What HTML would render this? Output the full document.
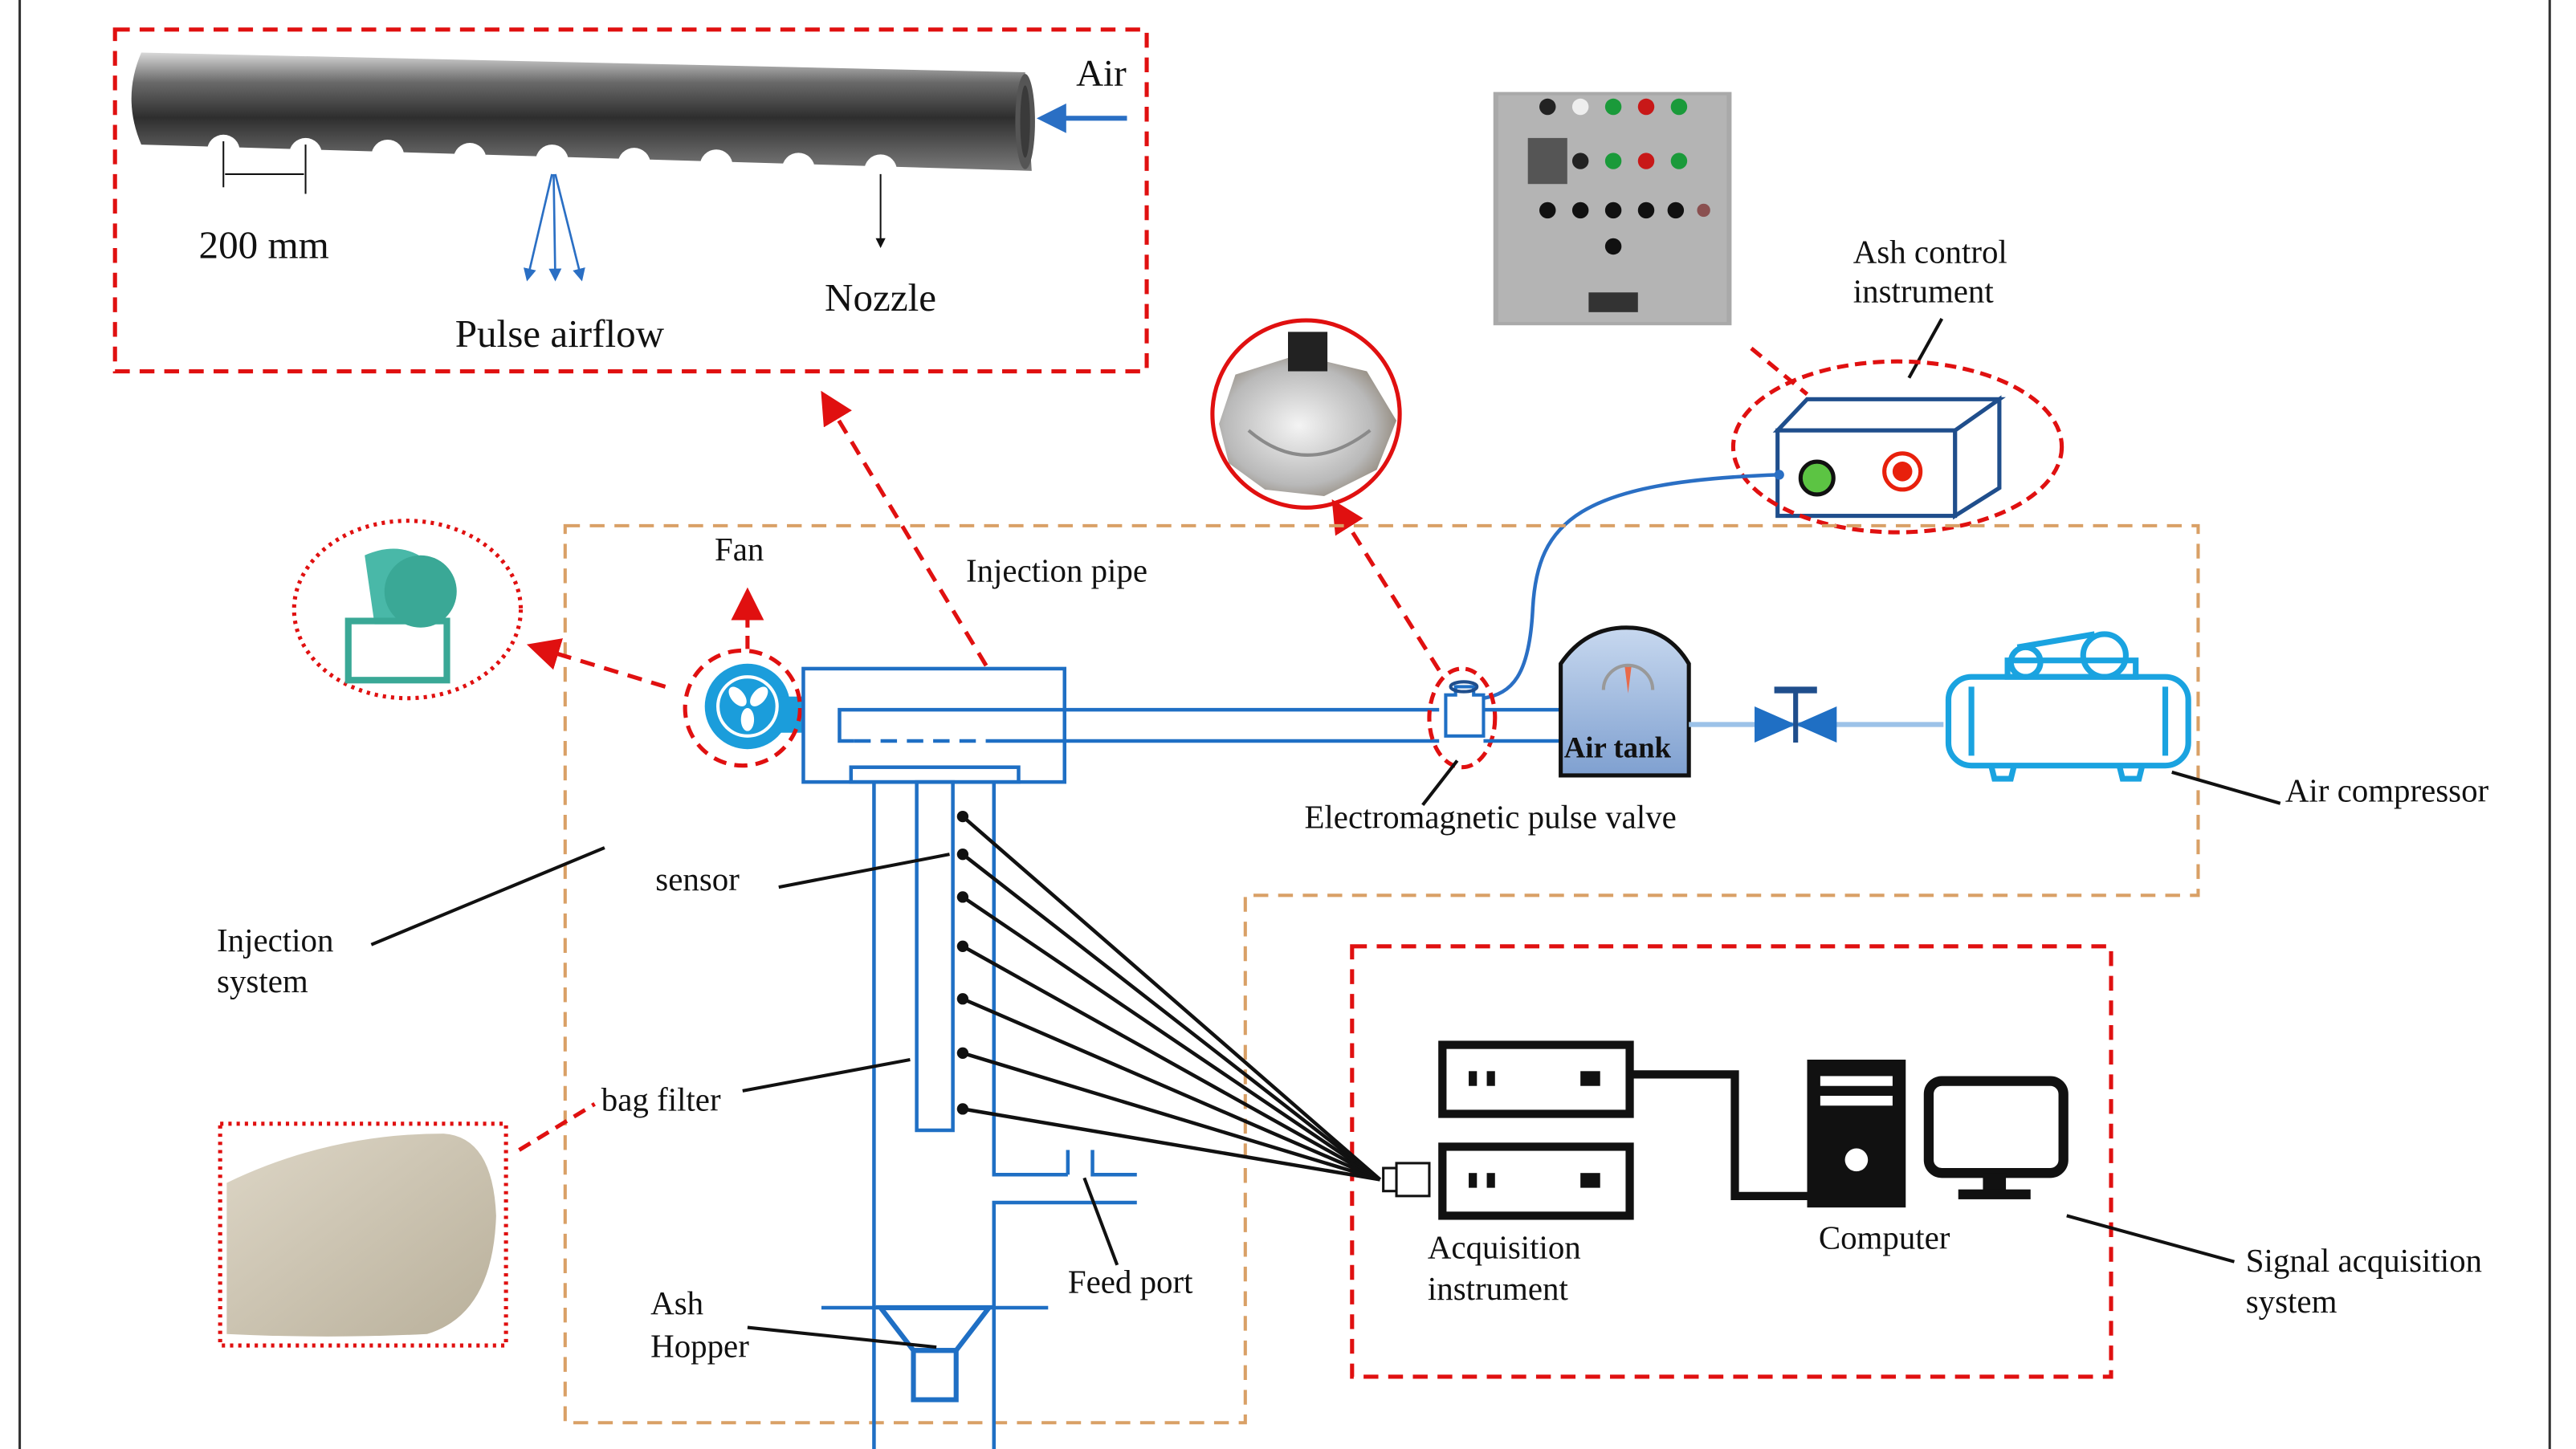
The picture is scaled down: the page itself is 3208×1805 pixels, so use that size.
<!DOCTYPE html>
<html><head><meta charset="utf-8"><style>
html,body{margin:0;padding:0;background:#fff;}
svg{display:block;}
text{font-family:"Liberation Serif",serif;fill:#111;}
</style></head><body>
<svg width="3208" height="1805" viewBox="0 0 1568 882" preserveAspectRatio="none" xmlns="http://www.w3.org/2000/svg">
<defs>
<linearGradient id="pipe" x1="0" y1="0" x2="0" y2="1">
<stop offset="0" stop-color="#d8d8d8"/><stop offset="0.25" stop-color="#6a6a6a"/><stop offset="0.55" stop-color="#2e2e2e"/><stop offset="1" stop-color="#7a7a7a"/></linearGradient>
<linearGradient id="tank" x1="0" y1="0" x2="0" y2="1"><stop offset="0" stop-color="#c7d8ef"/><stop offset="1" stop-color="#7fa0d0"/></linearGradient>
<radialGradient id="valve" cx="0.45" cy="0.5" r="0.6"><stop offset="0" stop-color="#f4f4f4"/><stop offset="0.7" stop-color="#b9b9b9"/><stop offset="1" stop-color="#8a7f70"/></radialGradient>
<linearGradient id="bag" x1="0" y1="0" x2="1" y2="1"><stop offset="0" stop-color="#ddd6c6"/><stop offset="1" stop-color="#b9b09b"/></linearGradient>
<marker id="ar" markerWidth="8" markerHeight="8" refX="7" refY="4" orient="auto"><path d="M0,0 L8,4 L0,8 z" fill="#e01010"/></marker>
<marker id="ab" markerWidth="6" markerHeight="6" refX="5" refY="3" orient="auto"><path d="M0,0 L6,3 L0,6 z" fill="#2a6fc4"/></marker>
<marker id="ak" markerWidth="6" markerHeight="6" refX="5" refY="3" orient="auto"><path d="M0,0 L6,3 L0,6 z" fill="#111"/></marker>
</defs>
<line x1="12" y1="0" x2="12" y2="882" stroke="#333" stroke-width="1.5"/>
<line x1="1552" y1="0" x2="1552" y2="882" stroke="#333" stroke-width="1.5"/>

<!-- top nozzle pipe -->
<rect x="70" y="18" width="628" height="208" fill="none" stroke="#e01010" stroke-width="2.5" stroke-dasharray="9,6"/>
<path d="M86,32 L624,44 L628,104 L86,88 Q74,60 86,32 z" fill="url(#pipe)"/>
<ellipse cx="624" cy="74" rx="6" ry="29" fill="#555"/>
<ellipse cx="624" cy="74" rx="3" ry="22" fill="#3a3a3a"/>
<g fill="#fff">
<circle cx="136" cy="92" r="10"/><circle cx="186" cy="94" r="10"/><circle cx="236" cy="95" r="10"/><circle cx="286" cy="97" r="10"/><circle cx="336" cy="98" r="10"/><circle cx="386" cy="100" r="10"/><circle cx="436" cy="101" r="10"/><circle cx="486" cy="103" r="10"/><circle cx="536" cy="104" r="10"/>
</g>
<text x="655" y="52" font-size="23">Air</text>
<line x1="686" y1="72" x2="634" y2="72" stroke="#2a6fc4" stroke-width="3" marker-end="url(#ab)"/>
<line x1="136" y1="86" x2="136" y2="114" stroke="#111" stroke-width="1"/>
<line x1="186" y1="88" x2="186" y2="118" stroke="#111" stroke-width="1"/>
<line x1="137" y1="106" x2="185" y2="106" stroke="#111" stroke-width="1"/>
<text x="121" y="157" font-size="24">200 mm</text>
<g stroke="#2a6fc4" stroke-width="1.3"><line x1="336" y1="106" x2="321" y2="170" marker-end="url(#ab)"/><line x1="337" y1="106" x2="338" y2="170" marker-end="url(#ab)"/><line x1="338" y1="106" x2="354" y2="170" marker-end="url(#ab)"/></g>
<text x="277" y="211" font-size="24">Pulse airflow</text>
<line x1="536" y1="106" x2="536" y2="150" stroke="#111" stroke-width="1" marker-end="url(#ak)"/>
<text x="502" y="189" font-size="24">Nozzle</text>

<!-- control panel photo -->
<rect x="909" y="56" width="145" height="142" fill="#a9a9a9"/>
<rect x="912" y="58" width="139" height="138" fill="#b4b4b4"/>
<g><circle cx="942" cy="65" r="5" fill="#222"/><circle cx="962" cy="65" r="5" fill="#eee"/><circle cx="982" cy="65" r="5" fill="#1a9a3a"/><circle cx="1002" cy="65" r="5" fill="#c81818"/><circle cx="1022" cy="65" r="5" fill="#1a9a3a"/>
<rect x="930" y="84" width="24" height="28" fill="#555"/><circle cx="962" cy="98" r="5" fill="#222"/><circle cx="982" cy="98" r="5" fill="#1a9a3a"/><circle cx="1002" cy="98" r="5" fill="#c81818"/><circle cx="1022" cy="98" r="5" fill="#1a9a3a"/>
<circle cx="942" cy="128" r="5" fill="#111"/><circle cx="962" cy="128" r="5" fill="#111"/><circle cx="982" cy="128" r="5" fill="#111"/><circle cx="1002" cy="128" r="5" fill="#111"/><circle cx="1020" cy="128" r="5" fill="#111"/><circle cx="1037" cy="128" r="4" fill="#8a5050"/>
<circle cx="982" cy="150" r="5" fill="#111"/><rect x="967" y="178" width="30" height="12" fill="#333"/></g>

<!-- ash control instrument -->
<text x="1128" y="160" font-size="20">Ash control</text>
<text x="1128" y="184" font-size="20">instrument</text>
<line x1="1182" y1="194" x2="1162" y2="230" stroke="#111" stroke-width="2"/>
<line x1="1066" y1="212" x2="1100" y2="240" stroke="#e01010" stroke-width="2.5" stroke-dasharray="8,5"/>
<path d="M1082,262 L1100,243 L1217,243 L1190,262 z M1190,262 L1217,243 L1217,297 L1190,314 z" fill="#fff" stroke="#1f4e8c" stroke-width="2.5"/>
<rect x="1082" y="262" width="108" height="52" fill="#fff" stroke="#1f4e8c" stroke-width="2.5"/>
<circle cx="1106" cy="291" r="10" fill="#5cc443" stroke="#111" stroke-width="2.5"/>
<circle cx="1158" cy="287" r="11" fill="#fff" stroke="#e8200c" stroke-width="2.5"/><circle cx="1158" cy="287" r="6" fill="#e8200c"/>
<ellipse cx="1155" cy="272" rx="100" ry="52" fill="none" stroke="#e01010" stroke-width="2.5" stroke-dasharray="7,4"/>
<path d="M1083,289 C960,293 936,318 933,370 C931,412 920,422 903,425" fill="none" stroke="#2a6fc4" stroke-width="2.2"/>
<circle cx="1083" cy="289" r="3" fill="#2a6fc4"/>

<!-- valve photo -->
<circle cx="795" cy="252" r="57" fill="#fff" stroke="#e01010" stroke-width="2.5"/>
<path d="M742,258 L752,228 L790,216 L832,226 L850,256 L838,286 L806,302 L770,298 L748,282 z" fill="url(#valve)"/>
<path d="M760,262 Q795,292 834,262" fill="none" stroke="#8a8a8a" stroke-width="2"/>
<rect x="784" y="202" width="24" height="24" fill="#222"/>
<line x1="876" y1="408" x2="812" y2="306" stroke="#e01010" stroke-width="2.5" stroke-dasharray="9,6" marker-end="url(#ar)"/>

<!-- orange injection system polygon -->
<path d="M344,320 L1338,320 L1338,545 L758,545 L758,866 L344,866 z" fill="none" stroke="#d9a066" stroke-width="2" stroke-dasharray="9,6"/>
<rect x="823" y="576" width="462" height="262" fill="none" stroke="#e01010" stroke-width="2.5" stroke-dasharray="9,6"/>

<!-- fan photo -->
<ellipse cx="248" cy="371" rx="69" ry="54" fill="#fff" stroke="#e01010" stroke-width="2.5" stroke-dasharray="2,3"/>
<path d="M222,338 Q250,326 268,350 L268,380 L228,380 z" fill="#49b8a8"/>
<circle cx="256" cy="360" r="22" fill="#3aa896"/>
<rect x="212" y="378" width="60" height="36" fill="none" stroke="#3aa896" stroke-width="4"/>
<line x1="405" y1="418" x2="323" y2="393" stroke="#e01010" stroke-width="2.5" stroke-dasharray="9,6" marker-end="url(#ar)"/>

<!-- fan -->
<circle cx="455" cy="430" r="26" fill="#1b9ddb"/><rect x="455" y="424" width="34" height="22" fill="#1b9ddb"/>
<circle cx="455" cy="430" r="18" fill="none" stroke="#fff" stroke-width="2"/>
<g fill="#fff"><ellipse cx="449" cy="424" rx="4" ry="7" transform="rotate(-40 449 424)"/><ellipse cx="462" cy="424" rx="4" ry="7" transform="rotate(40 462 424)"/><ellipse cx="455" cy="438" rx="4" ry="7"/></g>
<circle cx="452" cy="431" r="35" fill="none" stroke="#e01010" stroke-width="2.5" stroke-dasharray="8,5"/>
<line x1="455" y1="395" x2="455" y2="360" stroke="#e01010" stroke-width="2.5" stroke-dasharray="8,5" marker-end="url(#ar)"/>
<text x="435" y="341" font-size="20">Fan</text>
<text x="588" y="354" font-size="20">Injection pipe</text>
<line x1="608" y1="418" x2="501" y2="240" stroke="#e01010" stroke-width="2.5" stroke-dasharray="9,6" marker-end="url(#ar)"/>

<!-- box and pipes -->
<g fill="none" stroke="#1f6fc4" stroke-width="2.2">
<rect x="489" y="407" width="159" height="69" fill="#fff"/>
<path d="M876,432 L511,432 L511,451 L520,451"/>
<path d="M520,451 L600,451" stroke-dasharray="10,6"/>
<path d="M600,451 L876,451"/>
<rect x="518" y="467" width="102" height="9"/>
<line x1="532" y1="476" x2="532" y2="882"/>
<rect x="558" y="476" width="22" height="212"/>
<path d="M605,476 L605,715 L650,715 M650,700 L650,715"/>
<path d="M665,700 L665,715 L692,715"/>
<path d="M692,732 L605,732 L605,882"/>
<line x1="500" y1="796" x2="638" y2="796"/>
<path d="M536,796 L602,796 L582,822 L556,822 z" stroke-width="3"/>
<rect x="556" y="822" width="26" height="30" stroke-width="3"/>
</g>
<g stroke="#111" stroke-width="2.2">
<line x1="586" y1="497" x2="840" y2="718"/><line x1="586" y1="520" x2="840" y2="718"/><line x1="586" y1="546" x2="840" y2="718"/><line x1="586" y1="576" x2="840" y2="718"/><line x1="586" y1="608" x2="840" y2="718"/><line x1="586" y1="641" x2="840" y2="718"/><line x1="586" y1="675" x2="840" y2="718"/>
</g>
<g fill="#111"><circle cx="586" cy="497" r="3.5"/><circle cx="586" cy="520" r="3.5"/><circle cx="586" cy="546" r="3.5"/><circle cx="586" cy="576" r="3.5"/><circle cx="586" cy="608" r="3.5"/><circle cx="586" cy="641" r="3.5"/><circle cx="586" cy="675" r="3.5"/></g>
<rect x="842" y="711" width="8" height="14" fill="#fff" stroke="#111" stroke-width="1.5"/><rect x="850" y="708" width="20" height="20" fill="#fff" stroke="#111" stroke-width="1.5"/>

<!-- valve, tank, compressor -->
<path d="M880,423 L880,448 L903,448 L903,423 L897,423 L897,418 L886,418 L886,423 z" fill="#fff" stroke="#1f6fc4" stroke-width="2"/>
<ellipse cx="891" cy="418" rx="8" ry="3" fill="none" stroke="#1f4e8c" stroke-width="2"/>
<ellipse cx="890" cy="437" rx="20" ry="30" fill="none" stroke="#e01010" stroke-width="2.5" stroke-dasharray="7,4"/>
<line x1="903" y1="432" x2="950" y2="432" stroke="#1f6fc4" stroke-width="2.2"/>
<line x1="903" y1="451" x2="950" y2="451" stroke="#1f6fc4" stroke-width="2.2"/>
<path d="M950,472 L950,404 Q965,382 990,382 Q1015,382 1028,404 L1028,472 z" fill="url(#tank)" stroke="#111" stroke-width="2.5"/>
<path d="M976,420 A15,15 0 1 1 1006,420" fill="none" stroke="#999" stroke-width="2"/>
<path d="M989,406 L993,406 L991,422 z" fill="#e86a4a"/>
<text x="952" y="461" font-size="18" font-weight="bold">Air tank</text>
<line x1="1028" y1="441" x2="1183" y2="441" stroke="#9cc2e8" stroke-width="3"/>
<path d="M1068,430 L1093,441 L1068,452 z M1118,430 L1093,441 L1118,452 z" fill="#1f6fc4"/>
<line x1="1093" y1="421" x2="1093" y2="452" stroke="#1f4e8c" stroke-width="3"/>
<line x1="1080" y1="420" x2="1106" y2="420" stroke="#1f4e8c" stroke-width="4"/>
<g fill="none" stroke="#1aa3e0" stroke-width="3.5">
<rect x="1186" y="412" width="146" height="54" rx="14"/>
<line x1="1200" y1="418" x2="1200" y2="460"/><line x1="1318" y1="418" x2="1318" y2="460"/>
<rect x="1222" y="402" width="78" height="10"/>
<circle cx="1233" cy="403" r="9"/><circle cx="1281" cy="399" r="13"/>
<path d="M1228,394 L1275,386"/>
<path d="M1212,466 L1214,474 L1224,474 L1226,466 M1290,466 L1292,474 L1302,474 L1304,466"/>
</g>

<!-- labels -->
<text x="794" y="504" font-size="20">Electromagnetic pulse valve</text>
<line x1="887" y1="463" x2="866" y2="490" stroke="#111" stroke-width="2"/>
<text x="1391" y="488" font-size="20">Air compressor</text>
<line x1="1322" y1="470" x2="1388" y2="489" stroke="#111" stroke-width="2"/>
<text x="132" y="579" font-size="20">Injection</text>
<text x="132" y="604" font-size="20">system</text>
<line x1="226" y1="575" x2="368" y2="516" stroke="#111" stroke-width="2"/>
<text x="399" y="542" font-size="20">sensor</text>
<line x1="474" y1="540" x2="578" y2="520" stroke="#111" stroke-width="2"/>
<text x="366" y="676" font-size="20">bag filter</text>
<line x1="452" y1="664" x2="554" y2="645" stroke="#111" stroke-width="2"/>
<rect x="134" y="684" width="174" height="135" fill="#fff" stroke="#e01010" stroke-width="2.5" stroke-dasharray="2,3"/>
<path d="M138,720 Q200,690 270,690 Q300,692 302,740 Q300,800 260,812 Q200,815 138,812 z" fill="url(#bag)"/>
<line x1="316" y1="700" x2="362" y2="672" stroke="#e01010" stroke-width="2.5" stroke-dasharray="8,5"/>
<text x="396" y="800" font-size="20">Ash</text>
<text x="396" y="826" font-size="20">Hopper</text>
<line x1="455" y1="808" x2="570" y2="820" stroke="#111" stroke-width="2"/>
<text x="650" y="787" font-size="20">Feed port</text>
<line x1="680" y1="770" x2="660" y2="717" stroke="#111" stroke-width="2"/>

<!-- acquisition -->
<g fill="#fff" stroke="#111" stroke-width="5"><rect x="878" y="636" width="114" height="42"/><rect x="878" y="698" width="114" height="42"/></g>
<g fill="#111"><rect x="894" y="652" width="5" height="9"/><rect x="905" y="652" width="5" height="9"/><rect x="962" y="652" width="12" height="9"/><rect x="894" y="714" width="5" height="9"/><rect x="905" y="714" width="5" height="9"/><rect x="962" y="714" width="12" height="9"/></g>
<path d="M992,654 L1056,654 L1056,728 L1100,728" fill="none" stroke="#111" stroke-width="5"/>
<rect x="1100" y="645" width="60" height="90" fill="#111"/>
<rect x="1108" y="655" width="44" height="6" fill="#fff"/><rect x="1108" y="667" width="44" height="6" fill="#fff"/>
<circle cx="1130" cy="706" r="7" fill="#fff"/>
<rect x="1174" y="658" width="82" height="56" rx="8" fill="#fff" stroke="#111" stroke-width="6"/>
<rect x="1207" y="714" width="14" height="12" fill="#111"/><rect x="1192" y="724" width="44" height="6" fill="#111"/>
<text x="869" y="766" font-size="20">Acquisition</text>
<text x="869" y="791" font-size="20">instrument</text>
<text x="1107" y="760" font-size="20">Computer</text>
<text x="1367" y="774" font-size="20">Signal acquisition</text>
<text x="1367" y="799" font-size="20">system</text>
<line x1="1258" y1="740" x2="1360" y2="768" stroke="#111" stroke-width="2"/>
</svg>
</body></html>
